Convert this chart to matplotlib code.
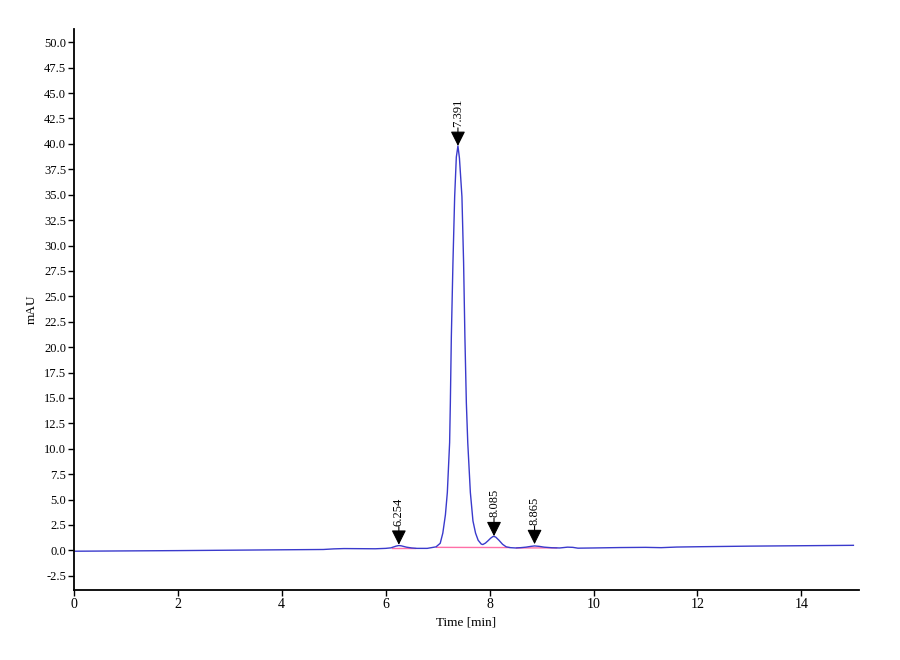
import matplotlib
matplotlib.use("Agg")
import matplotlib.pyplot as plt

plt.rcParams['font.family'] = ['Liberation Serif', 'DejaVu Serif']

# detector trace (time in min, signal in mAU)
time = [0.0, 1.0, 2.0, 3.0, 4.0, 4.8, 5.0, 5.2, 5.5, 5.8, 6.0, 6.1, 6.2, 6.254,
        6.3, 6.4, 6.5, 6.6, 6.8, 6.97,
        7.05, 7.10, 7.15, 7.187, 7.231, 7.245, 7.264, 7.295, 7.328, 7.36, 7.391,
        7.42, 7.468, 7.50, 7.525, 7.553, 7.58, 7.63, 7.68, 7.73, 7.78, 7.84,
        7.87, 7.92, 7.97, 8.02, 8.06, 8.085, 8.12, 8.18, 8.25, 8.32, 8.4,
        8.5, 8.6, 8.7, 8.8, 8.865, 8.95, 9.05, 9.2, 9.35, 9.5, 9.6, 9.7,
        10.0, 10.5, 11.0, 11.3, 11.6, 12.0, 12.5, 13.0, 13.5, 14.0, 14.5, 15.0]
signal = [-0.08, -0.05, -0.02, 0.02, 0.06, 0.09, 0.15, 0.18, 0.17, 0.16, 0.2, 0.25, 0.42, 0.48,
          0.45, 0.32, 0.24, 0.2, 0.2, 0.35,
          0.7, 1.7, 3.5, 5.7, 10.6, 14.5, 21.0, 28.3, 34.8, 38.7, 39.8,
          38.6, 34.8, 28.3, 21.0, 14.5, 10.6, 5.7, 2.9, 1.7, 1.0, 0.62,
          0.58, 0.72, 0.95, 1.2, 1.35, 1.38, 1.3, 1.0, 0.6, 0.35, 0.27,
          0.24, 0.27, 0.32, 0.4, 0.44, 0.4, 0.32, 0.26, 0.24, 0.32, 0.3, 0.22,
          0.24, 0.28, 0.3, 0.27, 0.33, 0.36, 0.39, 0.42, 0.44, 0.46, 0.48, 0.5]

# integration baselines (start t, start y, end t, end y)
base_t0 = [6.13, 6.98, 8.52]
base_y0 = [0.22, 0.3, 0.24]
base_t1 = [6.56, 8.38, 9.29]
base_y1 = [0.22, 0.28, 0.25]

# peak marks
peak_t = [6.254, 7.391, 8.085, 8.865]
peak_y = [0.56, 39.8, 1.4, 0.62]
peak_lbl = ['6.254', '7.391', '8.085', '8.865']

fig = plt.figure(figsize=(9, 6.6), dpi=100)
ax = fig.add_axes([0.082, 0.106, 0.872, 0.85])

for i in range(len(base_t0)):
    ax.plot([base_t0[i], base_t1[i]], [base_y0[i], base_y1[i]], color='#ff6fa8', lw=1.0)

ax.plot(time, signal, color='#3a3acc', lw=1.0)

for i in range(len(peak_t)):
    ax.annotate('', xy=(peak_t[i], peak_y[i]), xytext=(0, 13), textcoords='offset points',
                arrowprops=dict(arrowstyle='-|>,head_length=0.9,head_width=0.45',
                                color='black', lw=0.8, mutation_scale=10,
                                shrinkA=0, shrinkB=0))
    ax.annotate(peak_lbl[i], xy=(peak_t[i], peak_y[i]), xytext=(0, 13.5),
                textcoords='offset points', rotation=90, ha='center', va='bottom',
                fontsize=9)

ax.set_xlim(0, 15.1)
ax.set_ylim(-3.9, 51.3)
ax.set_xticks([0, 2, 4, 6, 8, 10, 12, 14])
ax.set_yticks([-2.5 + 2.5 * k for k in range(22)])
ax.set_yticklabels(['%.1f' % (-2.5 + 2.5 * k) for k in range(22)])
ax.tick_params(direction='out', length=4, width=1, pad=1.5)
ax.tick_params(axis='x', labelsize=10)
ax.tick_params(axis='y', labelsize=9)
ax.spines['top'].set_visible(False)
ax.spines['right'].set_visible(False)
ax.spines['left'].set_linewidth(1.3)
ax.spines['bottom'].set_linewidth(1.3)

ax.set_xlabel('Time [min]', fontsize=9.5, labelpad=4)
ax.set_ylabel('mAU', fontsize=9.5)
ax.yaxis.set_label_coords(-0.046, 0.5)

fig.savefig('out.png', dpi=100)
